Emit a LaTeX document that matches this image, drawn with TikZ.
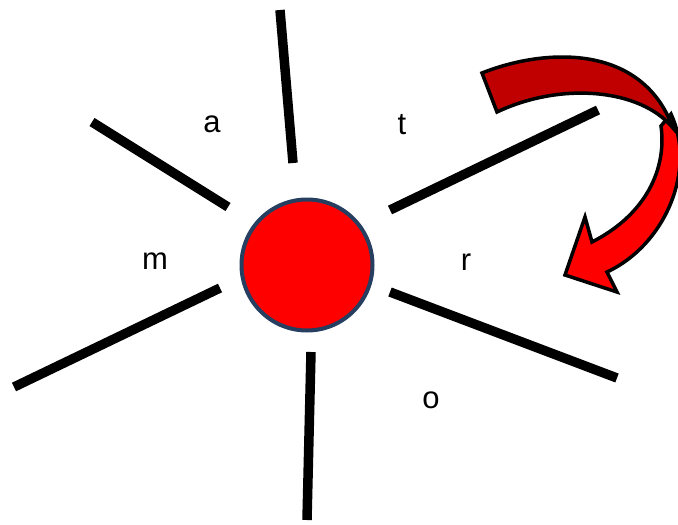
\documentclass[tikz,border=0pt]{standalone}
\usepackage{fontspec}
\setmainfont{Liberation Sans}
\begin{document}
\begin{tikzpicture}[x=1pt,y=-1pt,
  spoke/.style={line width=9.5pt,black},
  lbl/.style={inner sep=0pt,font=\fontsize{31}{31}\selectfont},
  arrowpart/.style={draw=black,line width=3.5pt,line join=miter}]
\definecolor{hubedge}{RGB}{38,62,96}
\definecolor{darkred}{HTML}{C00000}
\definecolor{brightred}{HTML}{FF0000}
\useasboundingbox (0,0) rectangle (678,525);
% spokes
\coordinate (s1a) at (280,10);  \coordinate (s1b) at (293,163);
\coordinate (s2a) at (92,122);  \coordinate (s2b) at (228,207);
\coordinate (s3a) at (390,210); \coordinate (s3b) at (598,110);
\coordinate (s4a) at (14,387);  \coordinate (s4b) at (220,288);
\coordinate (s5a) at (390,292); \coordinate (s5b) at (617,378);
\coordinate (s6a) at (311,352); \coordinate (s6b) at (307,520);
\draw[spoke] (s1a) -- (s1b);
\draw[spoke] (s2a) -- (s2b);
\draw[spoke] (s3a) -- (s3b);
\draw[spoke] (s4a) -- (s4b);
\draw[spoke] (s5a) -- (s5b);
\draw[spoke] (s6a) -- (s6b);
% hub
\node[circle,draw=hubedge,fill=brightred,line width=4pt,minimum size=131pt,inner sep=0pt] (hub) at (307,265) {};
% labels
\node[lbl] (la) at (212,124) {a};
\node[lbl] (lt) at (402,125) {t};
\node[lbl] (lm) at (155,261) {m};
\node[lbl] (lr) at (466,262) {r};
\node[lbl] (lo) at (431,400) {o};
% curved arrow
\fill[brightred,arrowpart] (671,114) .. controls (697,170) and (665,245) .. (607,272)
  -- (617,292) -- (565,275) -- (585,217) -- (592,242)
  .. controls (645,215) and (667,170) .. (661,126) -- cycle;
\fill[darkred,arrowpart] (482,73) .. controls (545,48) and (642,43) .. (673,128)
  .. controls (640,88) and (560,82) .. (497,112) -- cycle;
\end{tikzpicture}
\end{document}
